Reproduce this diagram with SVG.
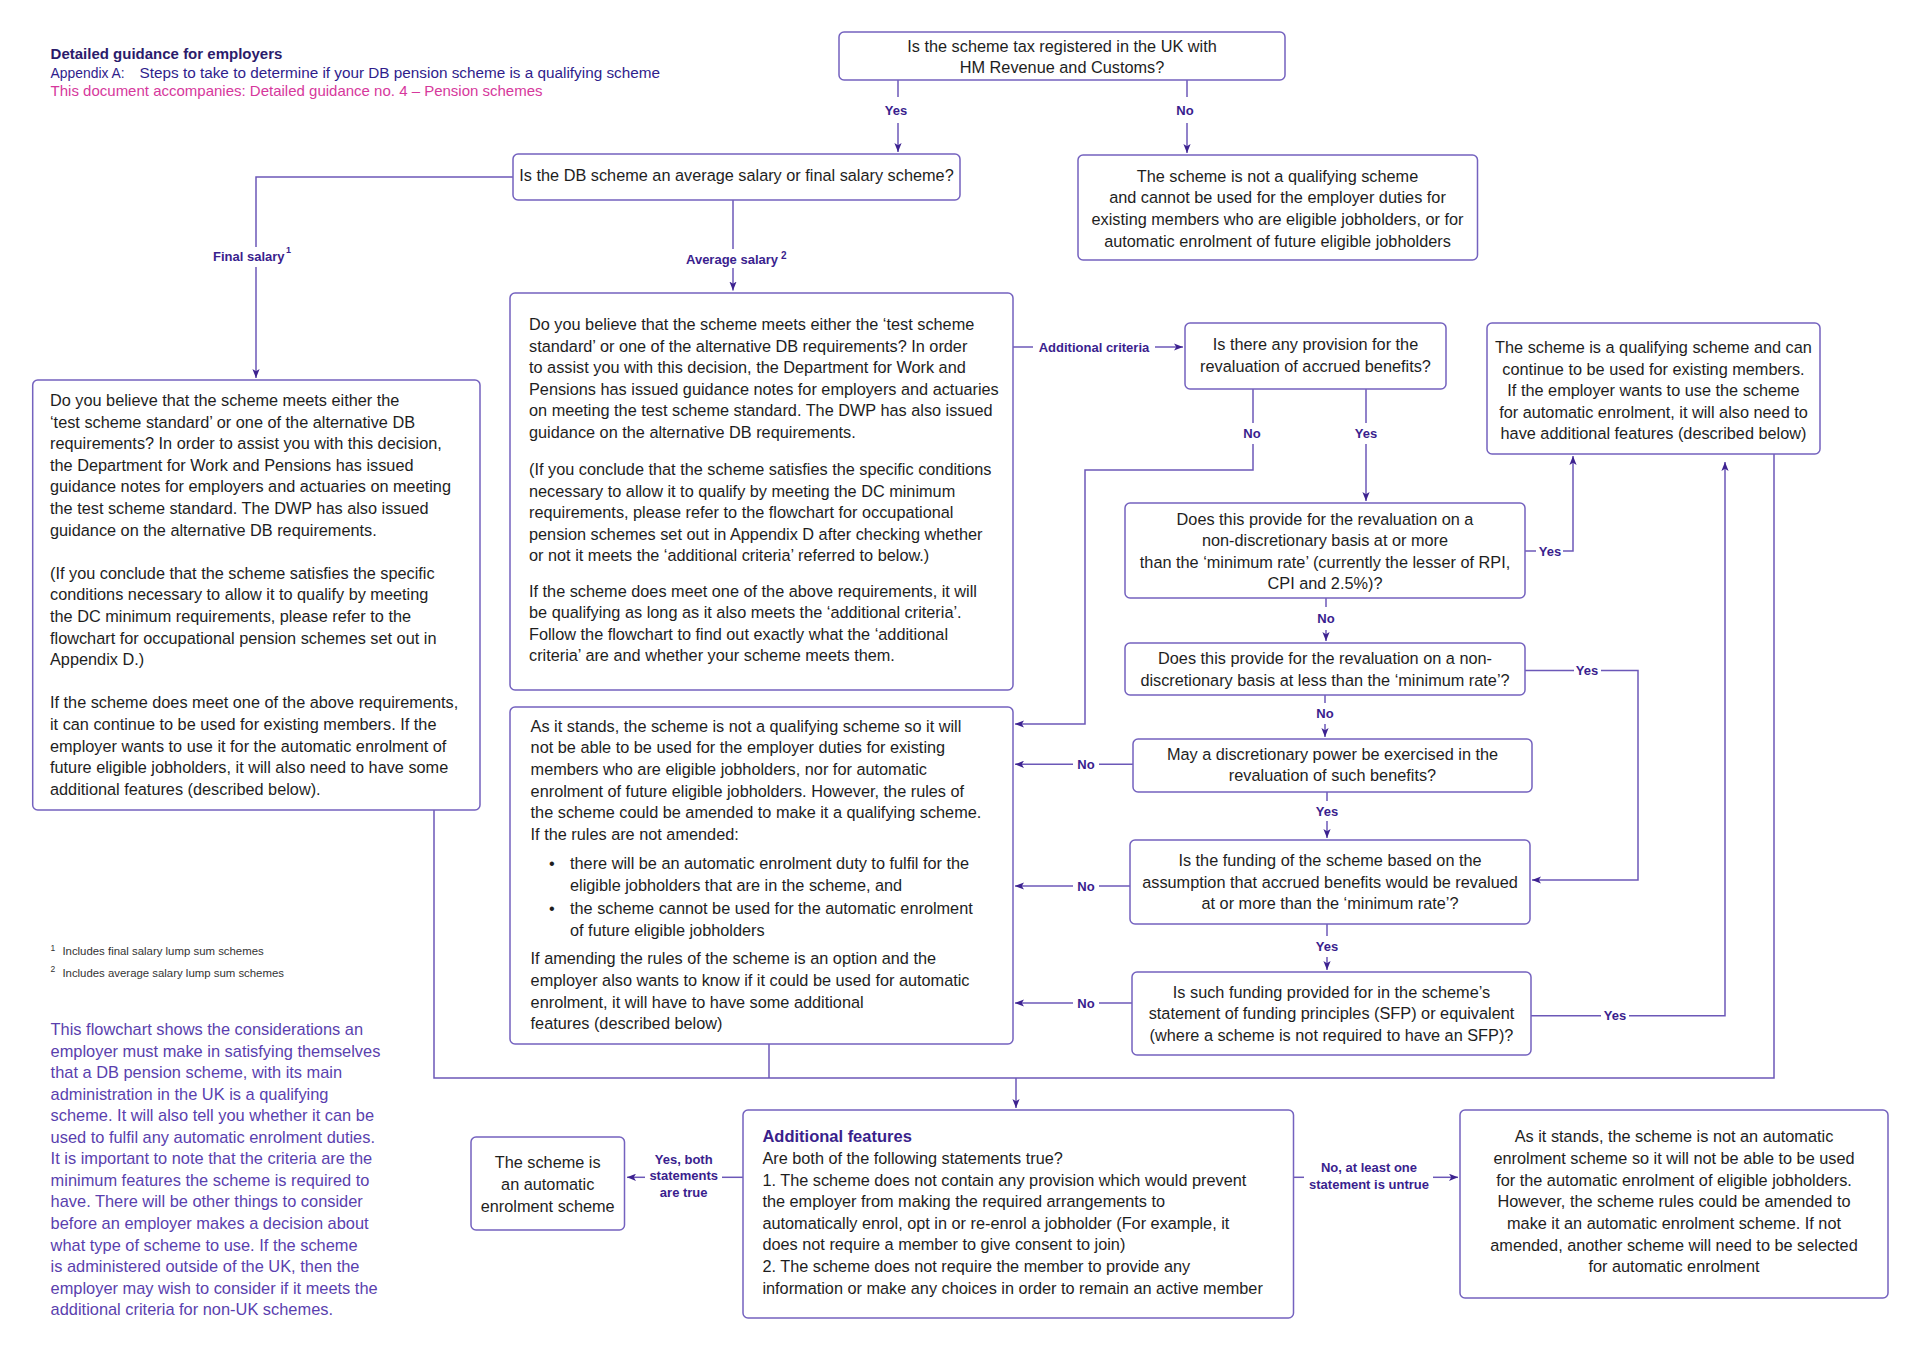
<svg xmlns="http://www.w3.org/2000/svg" width="1920" height="1345" viewBox="0 0 1920 1345">
<defs>
<style>
.box{fill:#fff;stroke:#7462bf;stroke-width:1.5}
.t{font-family:"Liberation Sans",Arial,sans-serif;font-size:16.3px;fill:#1e1e1e}
.c{text-anchor:middle}
.lbl{font-family:"Liberation Sans",Arial,sans-serif;font-size:13px;font-weight:bold;fill:#3a1e8e;text-anchor:middle}
.ln{fill:none;stroke:#6c58b8;stroke-width:1.5}
.arr{marker-end:url(#ah)}
.hd{font-family:"Liberation Sans",Arial,sans-serif;font-size:15px}
.desc{font-family:"Liberation Sans",Arial,sans-serif;font-size:16.4px;fill:#5a3fae}
.fn{font-family:"Liberation Sans",Arial,sans-serif;font-size:11.4px;fill:#333}
</style>
<marker id="ah" viewBox="0 0 10 8" refX="10" refY="4" markerWidth="9" markerHeight="7.5" orient="auto" markerUnits="userSpaceOnUse"><path d="M0,0 L10,4 L0,8 L2.5,4 z" fill="#3d2290"/></marker>
</defs>
<rect width="1920" height="1345" fill="#fff"/>

<g id="header">
<text class="hd" x="50.6" y="59.3" font-weight="bold" fill="#2b1b6b">Detailed guidance for employers</text>
<text class="hd" y="78.3" fill="#2f1d8c"><tspan x="50.6" textLength="74" lengthAdjust="spacingAndGlyphs">Appendix A:</tspan><tspan x="139.6" style="font-size:15.3px">Steps to take to determine if your DB pension scheme is a qualifying scheme</tspan></text>
<text class="hd" x="50.6" y="96" fill="#d6389c">This document accompanies: Detailed guidance no. 4 – Pension schemes</text>
</g>

<g id="connectors">
<path class="ln" d="M898,80 V97"/><path class="ln arr" d="M898,123 V152"/>
<text class="lbl" x="896" y="115.4">Yes</text>
<path class="ln" d="M1187,80 V97"/><path class="ln arr" d="M1187,123 V153"/>
<text class="lbl" x="1185" y="115.4">No</text>

<path class="ln" d="M513,177 H256 V247"/><path class="ln arr" d="M256,267 V378"/>
<text class="lbl" x="213" y="261.4" style="text-anchor:start">Final salary</text>
<text class="lbl" x="286" y="253" style="text-anchor:start;font-size:9px">1</text>

<path class="ln" d="M733,200 V249"/><path class="ln arr" d="M733,268 V290.5"/>
<text class="lbl" x="686" y="263.5" style="text-anchor:start">Average salary</text>
<text class="lbl" x="781" y="259" style="text-anchor:start;font-size:10px">2</text>

<path class="ln" d="M1013,347 H1033"/><path class="ln arr" d="M1155,347 H1183"/>
<text class="lbl" x="1094" y="351.6">Additional criteria</text>

<path class="ln" d="M1253,389 V423"/><path class="ln arr" d="M1253,444 V470 H1085 V724 H1015"/>
<text class="lbl" x="1252" y="438">No</text>
<path class="ln" d="M1366,389 V423"/><path class="ln arr" d="M1366,444 V501"/>
<text class="lbl" x="1366" y="437.5">Yes</text>

<path class="ln" d="M1525,551 H1536"/><path class="ln arr" d="M1563,551 H1573 V456"/>
<text class="lbl" x="1550" y="555.5">Yes</text>
<path class="ln" d="M1326,598 V607"/><path class="ln arr" d="M1326,630 V641"/>
<text class="lbl" x="1326" y="623">No</text>

<path class="ln" d="M1525,670.5 H1574"/><path class="ln arr" d="M1601,670.5 H1638 V880 H1532"/>
<text class="lbl" x="1587" y="675.2">Yes</text>
<path class="ln" d="M1325,695 V703"/><path class="ln arr" d="M1325,724 V737"/>
<text class="lbl" x="1325" y="717.7">No</text>

<path class="ln" d="M1133,764.3 H1099"/><path class="ln arr" d="M1073,764.3 H1015"/>
<text class="lbl" x="1086" y="769">No</text>
<path class="ln" d="M1327,792 V801"/><path class="ln arr" d="M1327,821 V838"/>
<text class="lbl" x="1327" y="815.7">Yes</text>

<path class="ln" d="M1130,886 H1099"/><path class="ln arr" d="M1073,886 H1015"/>
<text class="lbl" x="1086" y="890.7">No</text>
<path class="ln" d="M1327,924 V936"/><path class="ln arr" d="M1327,957 V970"/>
<text class="lbl" x="1327" y="951.4">Yes</text>

<path class="ln" d="M1132,1003 H1099"/><path class="ln arr" d="M1073,1003 H1015"/>
<text class="lbl" x="1086" y="1007.7">No</text>
<path class="ln" d="M1531,1015.7 H1601"/><path class="ln arr" d="M1629,1015.7 H1725 V462"/>
<text class="lbl" x="1615" y="1020.4">Yes</text>

<path class="ln" d="M434,810 V1078 H1774 V454"/>
<path class="ln" d="M769,1044 V1078"/>
<path class="ln arr" d="M1016,1078 V1108"/>

<path class="ln" d="M743,1177.3 H722"/><path class="ln arr" d="M645,1177.3 H627"/>
<text class="lbl" x="683.7" y="1163.5">Yes, both</text>
<text class="lbl" x="683.7" y="1180">statements</text>
<text class="lbl" x="683.7" y="1196.5">are true</text>

<path class="ln" d="M1293.5,1177.3 H1304"/><path class="ln arr" d="M1433,1177.3 H1458"/>
<text class="lbl" x="1369" y="1172">No, at least one</text>
<text class="lbl" x="1369" y="1188.5">statement is untrue</text>
</g>

<g id="q-tax">
<rect class="box" x="839" y="32" width="446" height="48" rx="5"/>
<text class="t c" x="1062" y="51.5">Is the scheme tax registered in the UK with</text>
<text class="t c" x="1062" y="73">HM Revenue and Customs?</text>
</g>

<g id="q-type">
<rect class="box" x="513" y="154" width="447" height="46" rx="5"/>
<text class="t c" x="736.5" y="181">Is the DB scheme an average salary or final salary scheme?</text>
</g>

<g id="not-qualifying">
<rect class="box" x="1078" y="155" width="399.5" height="105" rx="5"/>
<text class="t c" x="1277.5" y="181.7">The scheme is not a qualifying scheme</text>
<text class="t c" x="1277.5" y="203.3">and cannot be used for the employer duties for</text>
<text class="t c" x="1277.5" y="225">existing members who are eligible jobholders, or for</text>
<text class="t c" x="1277.5" y="246.7">automatic enrolment of future eligible jobholders</text>
</g>

<g id="final-salary-box">
<rect class="box" x="32.7" y="380" width="447.3" height="430" rx="5"/>
<text class="t" y="406">
<tspan x="50" dy="0">Do you believe that the scheme meets either the</tspan>
<tspan x="50" dy="21.6">‘test scheme standard’ or one of the alternative DB</tspan>
<tspan x="50" dy="21.6">requirements? In order to assist you with this decision,</tspan>
<tspan x="50" dy="21.6">the Department for Work and Pensions has issued</tspan>
<tspan x="50" dy="21.6">guidance notes for employers and actuaries on meeting</tspan>
<tspan x="50" dy="21.6">the test scheme standard. The DWP has also issued</tspan>
<tspan x="50" dy="21.6">guidance on the alternative DB requirements.</tspan>
<tspan x="50" dy="43.2">(If you conclude that the scheme satisfies the specific</tspan>
<tspan x="50" dy="21.6">conditions necessary to allow it to qualify by meeting</tspan>
<tspan x="50" dy="21.6">the DC minimum requirements, please refer to the</tspan>
<tspan x="50" dy="21.6">flowchart for occupational pension schemes set out in</tspan>
<tspan x="50" dy="21.6">Appendix D.)</tspan>
<tspan x="50" dy="43.2">If the scheme does meet one of the above requirements,</tspan>
<tspan x="50" dy="21.6">it can continue to be used for existing members. If the</tspan>
<tspan x="50" dy="21.6">employer wants to use it for the automatic enrolment of</tspan>
<tspan x="50" dy="21.6">future eligible jobholders, it will also need to have some</tspan>
<tspan x="50" dy="21.6">additional features (described below).</tspan>
</text>
</g>

<g id="average-salary-box">
<rect class="box" x="510" y="293" width="503" height="397" rx="5"/>
<text class="t" y="330">
<tspan x="529" dy="0">Do you believe that the scheme meets either the ‘test scheme</tspan>
<tspan x="529" dy="21.6">standard’ or one of the alternative DB requirements? In order</tspan>
<tspan x="529" dy="21.6">to assist you with this decision, the Department for Work and</tspan>
<tspan x="529" dy="21.6">Pensions has issued guidance notes for employers and actuaries</tspan>
<tspan x="529" dy="21.6">on meeting the test scheme standard. The DWP has also issued</tspan>
<tspan x="529" dy="21.6">guidance on the alternative DB requirements.</tspan>
<tspan x="529" dy="37">(If you conclude that the scheme satisfies the specific conditions</tspan>
<tspan x="529" dy="21.6">necessary to allow it to qualify by meeting the DC minimum</tspan>
<tspan x="529" dy="21.6">requirements, please refer to the flowchart for occupational</tspan>
<tspan x="529" dy="21.6">pension schemes set out in Appendix D after checking whether</tspan>
<tspan x="529" dy="21.6">or not it meets the ‘additional criteria’ referred to below.)</tspan>
<tspan x="529" dy="35.2">If the scheme does meet one of the above requirements, it will</tspan>
<tspan x="529" dy="21.6">be qualifying as long as it also meets the ‘additional criteria’.</tspan>
<tspan x="529" dy="21.6">Follow the flowchart to find out exactly what the ‘additional</tspan>
<tspan x="529" dy="21.6">criteria’ are and whether your scheme meets them.</tspan>
</text>
</g>

<g id="q-provision">
<rect class="box" x="1185" y="323" width="261" height="66" rx="5"/>
<text class="t c" x="1315.5" y="350">Is there any provision for the</text>
<text class="t c" x="1315.5" y="371.5">revaluation of accrued benefits?</text>
</g>

<g id="qualifying">
<rect class="box" x="1487" y="323" width="333" height="131" rx="5"/>
<text class="t c" x="1653.5" y="353">The scheme is a qualifying scheme and can</text>
<text class="t c" x="1653.5" y="374.6">continue to be used for existing members.</text>
<text class="t c" x="1653.5" y="396.2">If the employer wants to use the scheme</text>
<text class="t c" x="1653.5" y="417.8">for automatic enrolment, it will also need to</text>
<text class="t c" x="1653.5" y="439.4">have additional features (described below)</text>
</g>

<g id="q-reval-min">
<rect class="box" x="1125" y="503" width="400" height="95" rx="5"/>
<text class="t c" x="1325" y="524.5">Does this provide for the revaluation on a</text>
<text class="t c" x="1325" y="546">non-discretionary basis at or more</text>
<text class="t c" x="1325" y="567.5">than the ‘minimum rate’ (currently the lesser of RPI,</text>
<text class="t c" x="1325" y="589">CPI and 2.5%)?</text>
</g>

<g id="q-reval-less">
<rect class="box" x="1125" y="643" width="400" height="52" rx="5"/>
<text class="t c" x="1325" y="664">Does this provide for the revaluation on a non-</text>
<text class="t c" x="1325" y="685.5">discretionary basis at less than the ‘minimum rate’?</text>
</g>

<g id="q-discretion">
<rect class="box" x="1133" y="739" width="399" height="53" rx="5"/>
<text class="t c" x="1332.5" y="759.5">May a discretionary power be exercised in the</text>
<text class="t c" x="1332.5" y="781">revaluation of such benefits?</text>
</g>

<g id="q-funding">
<rect class="box" x="1130" y="840" width="400" height="84" rx="5"/>
<text class="t c" x="1330" y="866">Is the funding of the scheme based on the</text>
<text class="t c" x="1330" y="887.5">assumption that accrued benefits would be revalued</text>
<text class="t c" x="1330" y="909">at or more than the ‘minimum rate’?</text>
</g>

<g id="q-sfp">
<rect class="box" x="1132" y="972" width="399" height="83" rx="5"/>
<text class="t c" x="1331.5" y="997.5">Is such funding provided for in the scheme’s</text>
<text class="t c" x="1331.5" y="1019">statement of funding principles (SFP) or equivalent</text>
<text class="t c" x="1331.5" y="1040.5">(where a scheme is not required to have an SFP)?</text>
</g>

<g id="not-qualifying-rules">
<rect class="box" x="510" y="707" width="503" height="337" rx="5"/>
<text class="t">
<tspan x="530.6" y="731.7">As it stands, the scheme is not a qualifying scheme so it will</tspan>
<tspan x="530.6" y="753.3">not be able to be used for the employer duties for existing</tspan>
<tspan x="530.6" y="774.9">members who are eligible jobholders, nor for automatic</tspan>
<tspan x="530.6" y="796.5">enrolment of future eligible jobholders. However, the rules of</tspan>
<tspan x="530.6" y="818.1">the scheme could be amended to make it a qualifying scheme.</tspan>
<tspan x="530.6" y="839.7">If the rules are not amended:</tspan>
<tspan x="549" y="869">•</tspan><tspan x="570" y="869">there will be an automatic enrolment duty to fulfil for the</tspan>
<tspan x="570" y="890.6">eligible jobholders that are in the scheme, and</tspan>
<tspan x="549" y="914.3">•</tspan><tspan x="570" y="914.3">the scheme cannot be used for the automatic enrolment</tspan>
<tspan x="570" y="935.9">of future eligible jobholders</tspan>
<tspan x="530.6" y="964.3">If amending the rules of the scheme is an option and the</tspan>
<tspan x="530.6" y="985.9">employer also wants to know if it could be used for automatic</tspan>
<tspan x="530.6" y="1007.5">enrolment, it will have to have some additional</tspan>
<tspan x="530.6" y="1029.1">features (described below)</tspan>
</text>
</g>

<g id="additional-features">
<rect class="box" x="743" y="1110" width="550.5" height="208" rx="5"/>
<text x="762.4" y="1142.3" style="font-family:'Liberation Sans',Arial,sans-serif;font-size:16.5px;font-weight:bold;fill:#3a1f8c">Additional features</text>
<text class="t">
<tspan x="762.4" y="1164">Are both of the following statements true?</tspan>
<tspan x="762.4" y="1185.6">1. The scheme does not contain any provision which would prevent</tspan>
<tspan x="762.4" y="1207.2">the employer from making the required arrangements to</tspan>
<tspan x="762.4" y="1228.8">automatically enrol, opt in or re-enrol a jobholder (For example, it</tspan>
<tspan x="762.4" y="1250.4">does not require a member to give consent to join)</tspan>
<tspan x="762.4" y="1272">2. The scheme does not require the member to provide any</tspan>
<tspan x="762.4" y="1293.6">information or make any choices in order to remain an active member</tspan>
</text>
</g>

<g id="ae-scheme">
<rect class="box" x="471" y="1137" width="153.5" height="93" rx="5"/>
<text class="t c" x="547.7" y="1168.3">The scheme is</text>
<text class="t c" x="547.7" y="1190">an automatic</text>
<text class="t c" x="547.7" y="1211.7">enrolment scheme</text>
</g>

<g id="not-ae-scheme">
<rect class="box" x="1460" y="1110" width="428" height="188" rx="5"/>
<text class="t c" x="1674" y="1142.3">As it stands, the scheme is not an automatic</text>
<text class="t c" x="1674" y="1164">enrolment scheme so it will not be able to be used</text>
<text class="t c" x="1674" y="1185.7">for the automatic enrolment of eligible jobholders.</text>
<text class="t c" x="1674" y="1207.3">However, the scheme rules could be amended to</text>
<text class="t c" x="1674" y="1229">make it an automatic enrolment scheme. If not</text>
<text class="t c" x="1674" y="1250.7">amended, another scheme will need to be selected</text>
<text class="t c" x="1674" y="1272.3">for automatic enrolment</text>
</g>

<g id="footnotes">
<text class="fn" x="50.6" y="950.7" style="font-size:8.5px">1</text>
<text class="fn" x="62.4" y="955">Includes final salary lump sum schemes</text>
<text class="fn" x="50.6" y="972.4" style="font-size:8.5px">2</text>
<text class="fn" x="62.4" y="976.7">Includes average salary lump sum schemes</text>
</g>

<g id="description">
<text class="desc" y="1035">
<tspan x="50.6" dy="0">This flowchart shows the considerations an</tspan>
<tspan x="50.6" dy="21.55">employer must make in satisfying themselves</tspan>
<tspan x="50.6" dy="21.55">that a DB pension scheme, with its main</tspan>
<tspan x="50.6" dy="21.55">administration in the UK is a qualifying</tspan>
<tspan x="50.6" dy="21.55">scheme. It will also tell you whether it can be</tspan>
<tspan x="50.6" dy="21.55">used to fulfil any automatic enrolment duties.</tspan>
<tspan x="50.6" dy="21.55">It is important to note that the criteria are the</tspan>
<tspan x="50.6" dy="21.55">minimum features the scheme is required to</tspan>
<tspan x="50.6" dy="21.55">have. There will be other things to consider</tspan>
<tspan x="50.6" dy="21.55">before an employer makes a decision about</tspan>
<tspan x="50.6" dy="21.55">what type of scheme to use. If the scheme</tspan>
<tspan x="50.6" dy="21.55">is administered outside of the UK, then the</tspan>
<tspan x="50.6" dy="21.55">employer may wish to consider if it meets the</tspan>
<tspan x="50.6" dy="21.55">additional criteria for non-UK schemes.</tspan>
</text>
</g>
</svg>
